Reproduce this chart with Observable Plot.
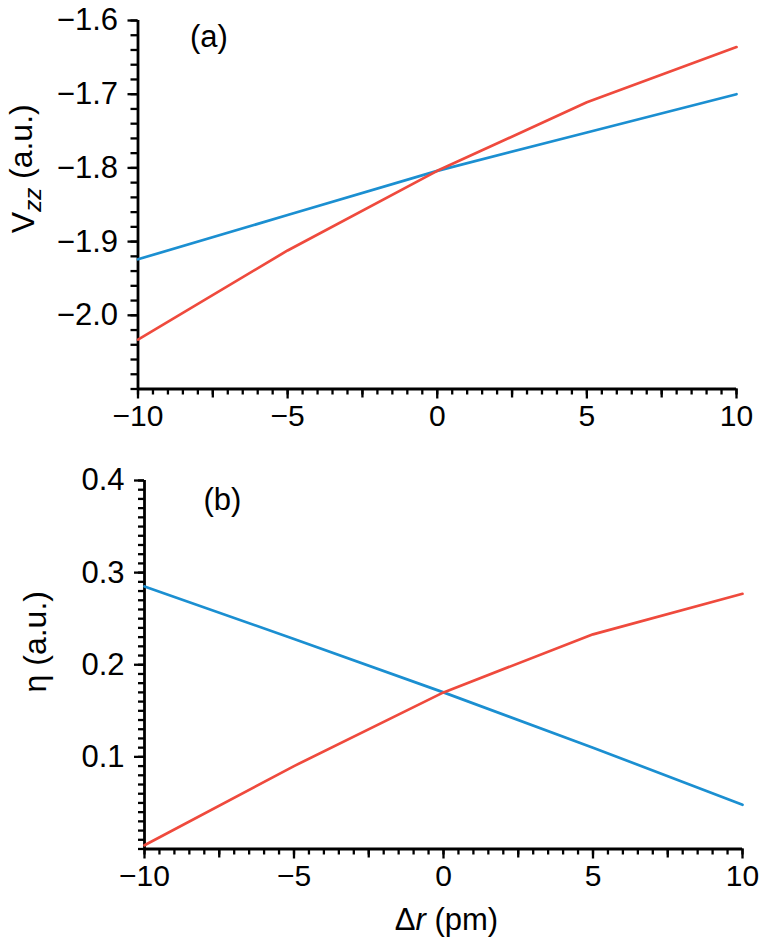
<!DOCTYPE html>
<html><head><meta charset="utf-8">
<script src="https://cdn.jsdelivr.net/npm/d3@7"></script>
<script src="https://cdn.jsdelivr.net/npm/@observablehq/plot@0.6"></script>
<style>
body{margin:0;background:#fff;}
#chart svg{display:block;overflow:visible;}
</style></head><body><div id="chart"></div>
<script>
// Data
const dr = [-10, -5, 0, 5, 10];
const vzzRed  = [-2.033, -1.912, -1.804, -1.711, -1.636];
const vzzBlue = [-1.924, -1.864, -1.804, -1.752, -1.700];
const etaRed  = [0.004, 0.090, 0.170, 0.233, 0.277];
const etaBlue = [0.285, 0.228, 0.170, 0.110, 0.048];

// Tick values / labels
const xMajor = [-10, -5, 0, 5, 10];
const xMedium = [-7.5, -2.5, 2.5, 7.5];
const xMinor = d3.range(-20, 21).map(d => d / 2);
const vzzMajor = [-2.0, -1.9, -1.8, -1.7, -1.6];
const vzzMinor = d3.range(-105, -79).map(d => d / 50);
const etaMajor = [0.1, 0.2, 0.3, 0.4];
const etaMinor = d3.range(0, 41).map(d => d / 100);

const RED = "#ef4a3d", BLUE = "#1b8fd1";
const FONT = "'Liberation Sans', Arial, Helvetica, sans-serif";
const FSX = 30, FSY = 31;

const rows = (ys) => dr.map((x, i) => ({x, y: ys[i]}));

function xAxes() {
  return [
    Plot.axisX(xMinor, {tickSize: 6, text: null, label: null, strokeWidth: 2.3}),
    Plot.axisX(xMedium, {tickSize: 9, text: null, label: null, strokeWidth: 2.3}),
    Plot.axisX(xMajor, {tickSize: 10, tickPadding: 6, label: null, strokeWidth: 2.3,
      tickFormat: d3.format("d"), fontSize: FSX, fill: "black"})
  ];
}

const topPlot = Plot.plot({
  width: 764, height: 455,
  marginTop: 20, marginBottom: 66.5, marginLeft: 137.5, marginRight: 28,
  style: {fontFamily: FONT, fontSize: "30px", color: "black", background: "white"},
  x: {domain: [-10, 10]},
  y: {domain: [-2.1, -1.6]},
  marks: [
    ...xAxes(),
    Plot.axisY(vzzMinor, {tickSize: 7, text: null, label: null, strokeWidth: 2.3}),
    Plot.axisY(vzzMajor, {tickSize: 10, tickPadding: 10, label: null, strokeWidth: 2.3,
      tickFormat: d3.format(".1f"), fontSize: FSY, fill: "black"}),
    Plot.ruleX([-10], {strokeWidth: 2.8}),
    Plot.ruleY([-2.1], {strokeWidth: 2.8}),
    Plot.line(rows(vzzBlue), {x: "x", y: "y", stroke: BLUE, strokeWidth: 2.7}),
    Plot.line(rows(vzzRed), {x: "x", y: "y", stroke: RED, strokeWidth: 2.7}),
    Plot.text(["(a)"], {frameAnchor: "top-left", dx: 52, dy: 4, textAnchor: "start",
      lineAnchor: "top", fontSize: 31, fill: "black"}),
    Plot.text(["Vzz (a.u.)"], {frameAnchor: "left", dx: -114, dy: -36, rotate: -90,
      textAnchor: "middle", lineAnchor: "middle", fontSize: 32, fill: "black"})
  ]
});

const bottomPlot = Plot.plot({
  width: 764, height: 488,
  marginTop: 25, marginBottom: 94.5, marginLeft: 144, marginRight: 22,
  style: {fontFamily: FONT, fontSize: "30px", color: "black", background: "white"},
  x: {domain: [-10, 10]},
  y: {domain: [0, 0.4]},
  marks: [
    ...xAxes(),
    Plot.axisY(etaMinor, {tickSize: 6, text: null, label: null, strokeWidth: 2.3}),
    Plot.axisY(etaMajor, {tickSize: 10, tickPadding: 10, label: null, strokeWidth: 2.3,
      tickFormat: d3.format(".1f"), fontSize: FSY, fill: "black"}),
    Plot.ruleX([-10], {strokeWidth: 2.8}),
    Plot.ruleY([0], {strokeWidth: 2.8}),
    Plot.line(rows(etaBlue), {x: "x", y: "y", stroke: BLUE, strokeWidth: 2.7}),
    Plot.line(rows(etaRed), {x: "x", y: "y", stroke: RED, strokeWidth: 2.7}),
    Plot.text(["(b)"], {frameAnchor: "top-left", dx: 59, dy: 7, textAnchor: "start",
      lineAnchor: "top", fontSize: 31, fill: "black"}),
    Plot.text(["η (a.u.)"], {frameAnchor: "left", dx: -109, dy: -23, rotate: -90,
      textAnchor: "middle", lineAnchor: "middle", fontSize: 32, fill: "black"}),
    Plot.text(["Δr (pm)"], {frameAnchor: "bottom", dx: 3, dy: 71,
      textAnchor: "middle", lineAnchor: "middle", fontSize: 31, fill: "black"})
  ]
});

// rich text: V with italic subscript zz, italic r
function findText(svg, s) {
  return d3.select(svg).selectAll("text").filter(function() { return this.textContent === s; });
}
{
  const t = findText(topPlot, "Vzz (a.u.)");
  t.text(null);
  t.append("tspan").text("V");
  t.append("tspan").attr("font-style", "italic").attr("font-size", 24).attr("dy", "0.28em").text("zz");
  t.append("tspan").attr("dy", "-0.28em").text(" (a.u.)");
  const x = findText(bottomPlot, "Δr (pm)");
  x.text(null);
  x.append("tspan").text("Δ");
  x.append("tspan").attr("font-style", "italic").text("r");
  x.append("tspan").text(" (pm)");
}

document.getElementById("chart").append(topPlot, bottomPlot);
</script>
</body></html>
